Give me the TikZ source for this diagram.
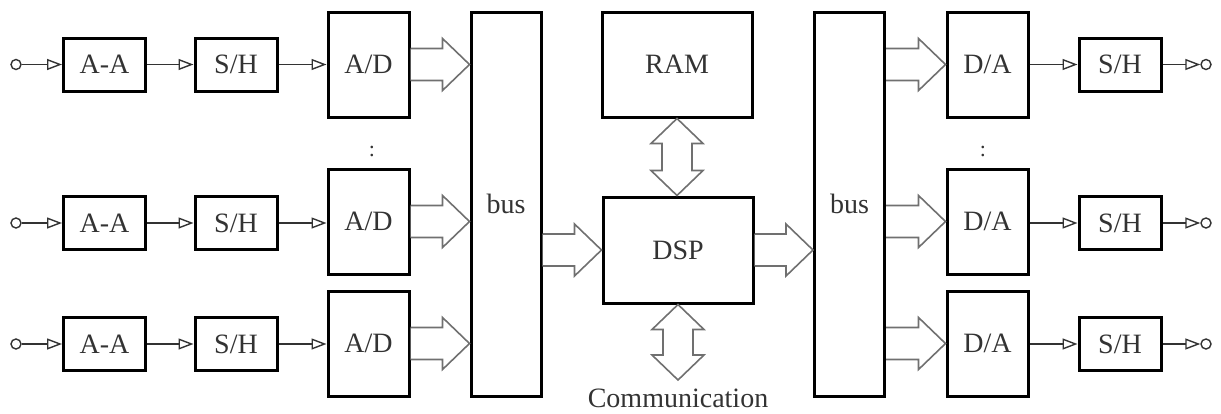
\documentclass[tikz,border=0pt]{standalone}
\usepackage{fontspec}
\setmainfont{Liberation Serif}
\usetikzlibrary{arrows.meta,calc}

\definecolor{ink}{HTML}{333333}
\definecolor{fatgray}{HTML}{707070}

\tikzset{
  blk/.style={draw=black, line width=3pt, fill=white, text=ink,
    inner sep=0pt, font=\fontsize{28}{32}\selectfont},
  smallblk/.style={blk, minimum width=82pt, minimum height=53pt},
  convblk/.style={blk, minimum width=81pt, minimum height=105pt},
  busblk/.style={blk, minimum width=70pt, minimum height=384pt},
  sig/.style={draw=ink, line width=1.4pt,
    -{Triangle[open,length=15pt,width=11pt,line width=1.4pt]}},
  term/.style={circle, draw=ink, line width=1.4pt, minimum size=10pt, inner sep=0pt},
  fat/.style={draw=fatgray, line width=1.6pt, line join=miter, fill=white},
  lbl/.style={text=ink, font=\fontsize{28}{32}\selectfont, inner sep=0pt},
}

% hollow bus arrow from point #1 to tip point #2 (horizontal)
\newcommand\busarrow[2]{%
  \draw[fat] let \p1=(#1), \p2=(#2) in
    (\x1,\y2+16) -- (\x2-27,\y2+16) -- (\x2-27,\y2+26) -- (\x2,\y2)
    -- (\x2-27,\y2-26) -- (\x2-27,\y2-16) -- (\x1,\y2-16);}

% hollow two-headed vertical arrow between points #1 (top) and #2 (bottom)
\newcommand\dblarrow[2]{%
  \draw[fat] let \p1=(#1), \p2=(#2) in
    (\x1,\y1) -- (\x1+26,\y1-25) -- (\x1+15,\y1-25) -- (\x1+15,\y2+25)
    -- (\x1+26,\y2+25) -- (\x1,\y2) -- (\x1-26,\y2+25) -- (\x1-15,\y2+25)
    -- (\x1-15,\y1-25) -- (\x1-26,\y1-25) -- cycle;}

\begin{document}
\begin{tikzpicture}[x=1pt,y=-1pt]
\useasboundingbox (0,0) rectangle (1221,413);

% input channels
\foreach \i/\yc/\ya in {1/64.5/64.5, 2/223/221.5, 3/344/343.5}{
  \node[term] (in\i) at (16,\yc) {};
  \node[smallblk] (aa\i) at (104.5,\yc) {A-A};
  \node[smallblk] (shl\i) at (236,\yc) {S/H};
  \node[convblk] (ad\i) at (368.5,\ya) {A/D};
}

% buses, memory and processor
\node[busblk] (busl) at (506,204) {bus};
\node[busblk] (busr) at (849.5,204) {bus};
\node[blk, minimum width=150pt, minimum height=105pt] (ram) at (677,64.5) {RAM};
\node[blk, minimum width=150pt, minimum height=106pt] (dsp) at (678,250) {DSP};
\node[lbl] (comm) at (678,398) {Communication};
\coordinate (commtip) at (678,380);

% output channels
\foreach \i/\yc/\ya in {1/64.5/64.5, 2/223/221.5, 3/344/343.5}{
  \node[convblk] (da\i) at (987.5,\ya) {D/A};
  \node[smallblk] (shr\i) at (1120,\yc) {S/H};
  \node[term] (out\i) at (1206,\yc) {};
}

% channel ellipsis
\node[lbl, font=\fontsize{22}{26}\selectfont] (dotsl) at (372,151) {:};
\node[lbl, font=\fontsize{22}{26}\selectfont] (dotsr) at (983,151) {:};

% signal lines (kept horizontal at the sample-and-hold level)
\foreach \i in {1,2,3}{
  \draw[sig] (in\i) -- (aa\i);
  \draw[sig] (aa\i) -- (shl\i);
  \draw[sig] (shl\i.east) -- (ad\i.west |- shl\i.east);
  \draw[sig] (da\i.east |- shr\i.west) -- (shr\i.west);
  \draw[sig] (shr\i) -- (out\i);
}

% data paths
\foreach \i in {1,2,3}{
  \busarrow{ad\i.east}{busl.west |- ad\i.east}
  \busarrow{busr.east |- da\i.west}{da\i.west}
}
\busarrow{busl.east |- dsp.west}{dsp.west}
\busarrow{dsp.east}{busr.west |- dsp.east}
\dblarrow{ram.south}{ram.south |- dsp.north}
\dblarrow{dsp.south}{commtip}
\end{tikzpicture}
\end{document}
